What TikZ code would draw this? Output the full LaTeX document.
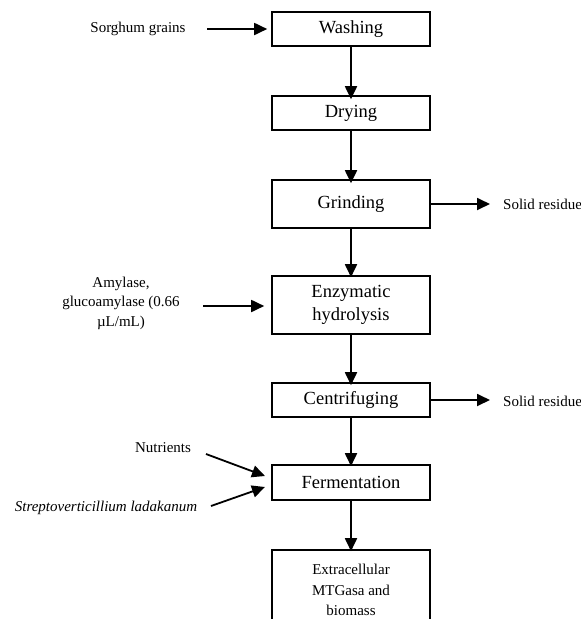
\documentclass[tikz,border=0pt]{standalone}
\usepackage{fontspec}
\setmainfont{Liberation Serif}
\usetikzlibrary{arrows.meta}
\begin{document}
\begin{tikzpicture}[x=1pt,y=-1pt,
  box/.style={draw,line width=1.6pt,minimum width=158pt,inner sep=0pt,align=center,font=\fontsize{18.5}{23.5}\selectfont},
  lab/.style={inner sep=0pt,align=center,font=\fontsize{15}{19.5}\selectfont},
  arr/.style={line width=1.8pt,-{Triangle[length=13pt,width=12pt]}}]
\clip (0,0) rectangle (581,619);
\useasboundingbox (0,0) rectangle (581,619);
\node[box,minimum height=34pt] (wash) at (351,29) {Washing};
\node[box,minimum height=34pt] (dry) at (351,113) {Drying};
\node[box,minimum height=48pt] (grind) at (351,204) {Grinding};
\node[box,minimum height=58pt] (enz) at (351,305) {Enzymatic\\hydrolysis};
\node[box,minimum height=34pt] (cent) at (351,400) {Centrifuging};
\node[box,minimum height=35pt] (ferm) at (351,482.5) {Fermentation};
\node[box,minimum height=80pt,font=\fontsize{15}{20.5}\selectfont] (ext) at (351,590) {Extracellular\\MTGasa and\\biomass};
\node[lab] (sorg) at (138,29) {Sorghum grains};
\node[lab] (amy) at (121,303) {Amylase,\\glucoamylase (0.66\\µL/mL)};
\node[lab,anchor=west] (sr1) at (503,204) {Solid residue};
\node[lab,anchor=west] (sr2) at (503,401) {Solid residue};
\node[lab] (nut) at (163,448) {Nutrients};
\node[lab,font=\fontsize{15}{19.5}\selectfont\itshape] (strep) at (106,508) {Streptoverticillium ladakanum};
\coordinate (s0) at (207,29);
\coordinate (a0) at (203,306);
\coordinate (n0) at (206,454);
\coordinate (st0) at (211,506);
\coordinate (n1) at (265,476);
\coordinate (st1) at (265,487);
\draw[arr] (s0) -- ([xshift=-4pt]wash.west);
\draw[arr] (wash) -- ([yshift=-4pt]dry.north);
\draw[arr] (dry) -- ([yshift=-4pt]grind.north);
\draw[arr] (grind) -- ([yshift=-2pt]enz.north);
\draw[arr] (enz) -- ([yshift=-3pt]cent.north);
\draw[arr] (cent) -- ([yshift=-2pt]ferm.north);
\draw[arr] (ferm) -- ([yshift=-2pt]ext.north);
\draw[arr] (grind.east) -- ([xshift=-13pt]sr1.west |- grind.east);
\draw[arr] (cent.east) -- ([xshift=-13pt]sr2.west |- cent.east);
\draw[arr] (a0) -- ([xshift=-7pt]enz.west |- a0);
\draw[arr] (n0) -- (n1);
\draw[arr] (st0) -- (st1);
\end{tikzpicture}
\end{document}
